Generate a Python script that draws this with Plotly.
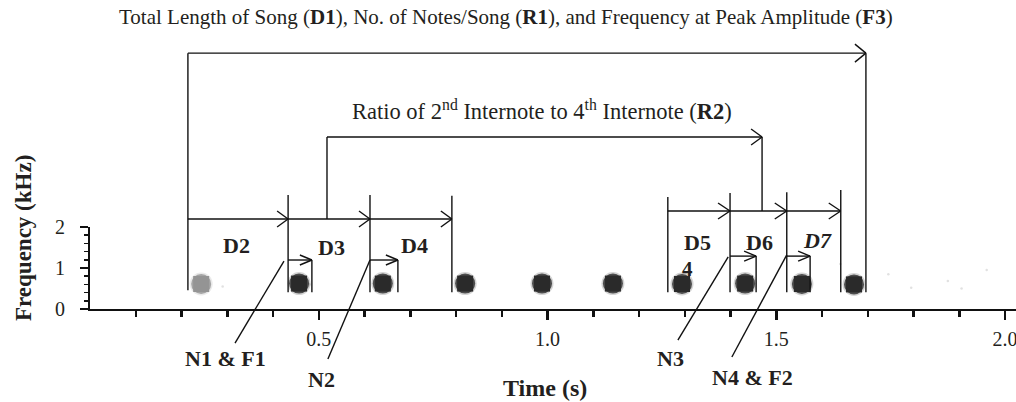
import plotly.graph_objects as go

# ---------------- data ----------------
# spectrogram notes: centre time (s), peak frequency (kHz), relative darkness
note_times = [0.243, 0.457, 0.640, 0.820, 0.988, 1.143, 1.294, 1.432, 1.556, 1.670]
note_freqs = [0.61, 0.62, 0.62, 0.62, 0.62, 0.62, 0.61, 0.62, 0.61, 0.60]
note_level = [0.50, 1.0, 1.0, 1.0, 1.0, 1.0, 1.0, 1.0, 1.0, 1.0]

# faint background specks (time s, freq kHz)
speck_times = [0.290, 0.480, 1.640, 1.745, 1.795, 1.875, 1.905, 1.960]
speck_freqs = [0.55, 0.60, 1.10, 0.85, 0.52, 0.68, 0.50, 0.95]

# song boundaries (D1)
song_start = 0.214
song_end = 1.696

# note onsets used for internote durations D2..D4 and D5..D7
onsets_left = [0.214, 0.433, 0.612, 0.791]
onsets_right = [1.263, 1.399, 1.523, 1.641]
labels_left = ["<b>D2</b>", "<b>D3</b>", "<b>D4</b>"]
labels_right = ["<b>D5</b>", "<b>D6</b>", "<b><i>D7</i></b>"]

# note durations N1..N4 (start, end)
note_starts = [0.433, 0.612, 1.399, 1.523]
note_ends = [0.485, 0.673, 1.456, 1.574]
note_labels = ["<b>N1 &amp; F1</b>", "<b>N2</b>", "<b>N3</b>", "<b>N4 &amp; F2</b>"]

# ratio R2 (2nd internote vs 4th internote) marker times
r2_start = 0.518
r2_end = 1.469

x_tickvals = [0.5, 1.0, 1.5, 2.0]
x_ticktext = ["0.5", "1.0", "1.5", "2.0"]
x_minor = [0.1, 0.2, 0.3, 0.4, 0.6, 0.7, 0.8, 0.9, 1.1, 1.2, 1.3, 1.4, 1.6, 1.7, 1.8, 1.9]
y_tickvals = [0, 1, 2]
y_ticktext = ["0", "1", "2"]
y_minor = [0.2, 0.4, 0.6, 0.8, 1.2, 1.4, 1.6, 1.8]

# ---------------- layout constants ----------------
W, H = 1016, 402
X0_PX = 90            # pixel of t = 0
PX_PER_S = 457.5
Y0_PX = 309           # pixel of 0 kHz
PX_PER_U = 41.0
X_RANGE = [0, (W - X0_PX) / PX_PER_S]
Y2_RANGE = [-(H - Y0_PX) / PX_PER_U, Y0_PX / PX_PER_U]
Y_DOMAIN = [(H - Y0_PX) / H, (H - Y0_PX + 2 * PX_PER_U) / H]

LV_TOP = 6.24
LV_R2 = 4.195
LV_DL = 2.195
LV_DR = 2.39
LV_NL = 1.195
LV_NR = 1.29
LV_BOT = 0.41
TICK_TOP_L = [2.78, 2.78, 2.76]
TICK_TOP_R = [2.73, 2.83, 2.85, 2.90]

FONT = "Liberation Serif"
INK = "#231f20"

segs = []


def seg(t0, y0, t1, y1):
    segs.append(((t0, y0), (t1, y1)))


def arrow(t0, t1, y, back=11, half=8):
    seg(t0, y, t1, y)
    dt = back / PX_PER_S
    dy = half / PX_PER_U
    seg(t1 - dt, y + dy, t1, y)
    seg(t1, y, t1 - dt, y - dy)


# D1 bracket
seg(song_start, LV_TOP, song_start, LV_BOT + 0.05)
seg(song_end, LV_TOP, song_end, LV_BOT)
arrow(song_start, song_end, LV_TOP, 11, 9)

# R2 bracket
seg(r2_start, LV_R2, r2_start, LV_DL)
seg(r2_end, LV_R2, r2_end, LV_DR)
arrow(r2_start, r2_end, LV_R2, 11, 8)

# internote arrows
for i in range(3):
    arrow(onsets_left[i], onsets_left[i + 1], LV_DL, 11, 8)
    seg(onsets_left[i + 1], TICK_TOP_L[i], onsets_left[i + 1], LV_BOT)
for i in range(3):
    arrow(onsets_right[i], onsets_right[i + 1], LV_DR, 12, 8)
for i in range(4):
    seg(onsets_right[i], TICK_TOP_R[i], onsets_right[i], LV_BOT)

# note-duration arrows
for i in range(4):
    lv = LV_NL if i < 2 else LV_NR
    arrow(note_starts[i], note_ends[i], lv, 12, 5)
    seg(note_ends[i], lv, note_ends[i], LV_BOT)

# leader lines to note labels
leader_ends = [(0.317, -0.83), (0.520, -1.22), (1.285, -0.76), (1.403, -1.17)]
leader_starts = [(0.424, 1.17), (0.612, 1.195), (1.395, 1.27), (1.523, 1.32)]
for (a, b), (c, d) in zip(leader_starts, leader_ends):
    seg(a, b, c, d)

lx, ly = [], []
for (a, b), (c, d) in segs:
    lx += [a, c, None]
    ly += [b, d, None]

fig = go.Figure()


def shade(level, alpha):
    g = int(round(255 - level * (255 - 42)))
    return f"rgba({g},{g},{g},{alpha})"


fig.add_trace(go.Scatter(
    x=speck_times, y=speck_freqs, mode="markers",
    marker=dict(size=2.5, color="rgba(205,205,205,0.6)", line=dict(width=0)),
    hoverinfo="skip", showlegend=False, cliponaxis=False))
fig.add_trace(go.Scatter(
    x=note_times, y=note_freqs, mode="markers",
    marker=dict(size=23, symbol="circle", color=[shade(v, 0.2) for v in note_level], line=dict(width=0)),
    hoverinfo="skip", showlegend=False, cliponaxis=False))
fig.add_trace(go.Scatter(
    x=note_times, y=note_freqs, mode="markers",
    marker=dict(size=20, symbol="circle", color=[shade(v, 0.8) for v in note_level], line=dict(width=0)),
    hoverinfo="skip", showlegend=False, cliponaxis=False))
fig.add_trace(go.Scatter(
    x=note_times, y=note_freqs, mode="markers",
    marker=dict(size=16, symbol="square", color=[shade(v, 1.0) for v in note_level], line=dict(width=0)),
    hoverinfo="skip", showlegend=False, cliponaxis=False))

# bracket / arrow lines on the full-height helper axis
fig.add_trace(go.Scatter(
    x=lx, y=ly, mode="lines", xaxis="x", yaxis="y2",
    line=dict(color="#111", width=1.4), hoverinfo="skip", showlegend=False))

ann = []


def text(t, y, s, size=19, **kw):
    ann.append(dict(x=t, y=y, xref="x", yref="y2", text=s, showarrow=False,
                    xanchor="center", yanchor="middle",
                    font=dict(family=FONT, size=size, color=INK), **kw))


text(0.909, 7.12, "Total Length of Song (<b>D1</b>), No. of Notes/Song (<b>R1</b>), and Frequency at Peak Amplitude (<b>F3</b>)", 21)
text(0.988, 4.85, "Ratio of 2<sup>nd</sup> Internote to 4<sup>th</sup> Internote (<b>R2</b>)", 22.5)
for s, (t, y) in zip(labels_left, [(0.321, 1.56), (0.527, 1.51), (0.710, 1.56)]):
    text(t, y, s, 22)
for s, (t, y) in zip(labels_right, [(1.327, 1.61), (1.464, 1.63), (1.591, 1.66)]):
    text(t, y, s, 22)
text(1.307, 0.98, "<b>4</b>", 21)
for s, (t, y) in zip(note_labels, [(0.297, -1.20), (0.505, -1.73), (1.268, -1.20), (1.447, -1.68)]):
    text(t, y, s, 22)
text(0.995, -1.93, "<b>Time (s)</b>", 24)

ann.append(dict(x=23 / W, y=(H - 238) / H, xref="paper", yref="paper",
                text="<b>Frequency (kHz)</b>", textangle=-90, showarrow=False,
                xanchor="center", yanchor="middle",
                font=dict(family=FONT, size=23, color=INK)))

fig.update_layout(
    width=W, height=H, margin=dict(l=0, r=0, t=0, b=0, pad=0, autoexpand=False),
    paper_bgcolor="white", plot_bgcolor="rgba(0,0,0,0)",
    showlegend=False,
    annotations=ann,
    xaxis=dict(domain=[X0_PX / W, 1], range=X_RANGE, anchor="y", automargin=False,
               showgrid=False, zeroline=False, showline=True, linecolor="#111", linewidth=2,
               tickmode="array", tickvals=x_tickvals, ticktext=x_ticktext,
               ticks="outside", ticklen=9, tickwidth=2.5, tickcolor="#111",
               ticklabeloverflow="allow", ticklabelstandoff=2,
               tickfont=dict(family=FONT, size=20, color=INK),
               minor=dict(tickmode="array", tickvals=x_minor, ticks="outside",
                          ticklen=6, tickwidth=2.5, tickcolor="#111")),
    yaxis=dict(domain=Y_DOMAIN, range=[0, 2], anchor="x", automargin=False,
               showgrid=False, zeroline=False, showline=True, linecolor="#111", linewidth=2,
               tickmode="array", tickvals=y_tickvals, ticktext=y_ticktext,
               ticks="outside", ticklen=8, tickwidth=2, tickcolor="#111",
               ticklabelstandoff=11,
               tickfont=dict(family=FONT, size=20, color=INK),
               minor=dict(tickmode="array", tickvals=y_minor, ticks="outside",
                          ticklen=4, tickwidth=1.5, tickcolor="#111")),
    yaxis2=dict(domain=[0, 1], range=Y2_RANGE, anchor="x", visible=False, automargin=False,
                showgrid=False, zeroline=False),
)

fig.write_html(
    "out.html",
    config={"displayModeBar": False, "staticPlot": True},
    post_script="document.body.style.margin='0';document.body.style.overflow='hidden';",
)
